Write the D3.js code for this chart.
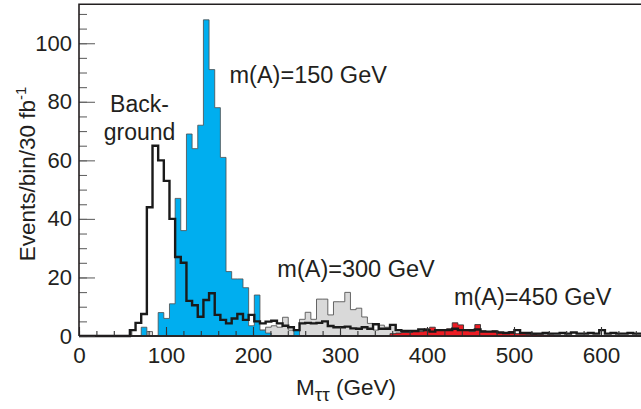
<!DOCTYPE html>
<html><head><meta charset="utf-8">
<script src="https://cdn.jsdelivr.net/npm/d3@7"></script>
<style>
html,body{margin:0;padding:0;background:#fff;}
svg{display:block;font-family:"Liberation Sans",Arial,Helvetica,sans-serif;}
</style></head>
<body>
<svg id="c" width="641" height="409"></svg>
<script>
// ---- data: 100 bins of 6.5 GeV starting at 0 ----
const binStart = 0;
const binWidth = 6.5;
const background = [0,0,0,0,0,0,0,0,0,2,4.5,7.5,44,65,60,53,40,27,25,12,
  10.5,6.6,12.3,14.6,7.2,5.5,4.3,6,7.5,5.5,7.2,5,4.3,4.9,5.2,4.3,3.5,3,2,4.3,
  4.5,4.3,4.5,5,3.4,3,3,3.2,2.6,2.5,3,2.5,4,2.5,2.5,3.8,2,1.7,1.7,1.7,
  2.2,2,1.5,2,2,2,2.5,2,2,2,2.2,1.5,1.5,1.5,1.2,1,1.2,2,1,1,
  0.8,0.8,1,0.8,0.8,1,0.8,1.2,0.8,0.8,1,0.8,2,0.8,1,0.8,0.8,1,0.8,0.8];
const signal150 = [0,0,0,0,0,0,0,0,0,0,0,3,0,0,8,6,11,47,36,69,
  64,72,108,91,78,61,22,19.5,19.5,16.5,3.5,14,2,1,0,0,0,0,2,0,
  0,0,0,0,0,0,0,0,0,0,0,0,0,0,0,0,0,0,0,0,
  0,0,0,0,0,0,0,0,0,0,0,0,0,0,0,0,0,0,0,0,
  0,0,0,0,0,0,0,0,0,0,0,0,0,0,0,0,0,0,0,0];
const signal300 = [0,0,0,0,0,0,0,0,0,0,0,0,1.5,0,0,0,0,0,0,0,
  0,0,0,0,0,0,1,0,0,0,0,1,2,3,3.5,3,6.4,2,1.5,5.7,
  8.1,5.7,12.6,12.6,7.2,11.7,11.7,14.9,9,9.5,6.5,4.3,2,3.7,3,3.8,2,1.5,1.5,1,
  1,1,0.8,0.8,0.6,0.5,0,0,0,0,0,0,0,0,0,0,0,0,0,0,
  0,0,0,0,0,0,0,0,0,0,0,0,0,0,0,0,0,0,0,0];
const signal450 = [0,0,0,0,0,0,0,0,0,0,0,0,0,0,0,0,0,0,0,0,
  0,0,0,0,0,0,0,0,0,0,0,0,0,0,0,0,0,0,0,0,
  0,0,0,0,0,0,0,0,0,0,0,0,0,0,0,0.8,1,1.2,1.2,1.5,
  1.5,2.5,3,2.2,2.2,2.5,4.5,3.8,2.2,1.5,3.9,1.8,1.5,1.8,1.2,1,1.5,0.8,0.8,0.6,
  0.5,0.4,0.3,0.3,0,0,0,0,0,0,0,0,0,0,0,0,0,0,0,0];
const xMajorTicks = [0,100,200,300,400,500,600];
const yMajorTicks = [0,20,40,60,80,100];
const labels = [
  {text:"m(A)=150 GeV", gev:173, val:86.5},
  {text:"m(A)=300 GeV", gev:228, val:20},
  {text:"m(A)=450 GeV", gev:431, val:10.5}
];

// ---- drawing ----
const svg = d3.select("#c");
const x = d3.scaleLinear().domain([0, 650]).range([79, 644.5]);
const y = d3.scaleLinear().domain([0, 113.3]).range([336, 4.3]);

function steps(arr){
  const pts = [[binStart, 0]];
  arr.forEach((v,i)=>{
    const lo = binStart + i*binWidth, hi = lo + binWidth;
    pts.push([lo, v]); pts.push([hi, v]);
  });
  pts.push([binStart + arr.length*binWidth, 0]);
  return pts;
}
const area = d3.area().x(d=>x(d[0])).y0(y(0)).y1(d=>y(d[1]));
const line = d3.line().x(d=>x(d[0])).y(d=>y(d[1]));

svg.append("path").attr("d", area(steps(signal300)))
  .attr("fill","#d9d9d9").attr("stroke","#555").attr("stroke-width",0.9);
svg.append("path").attr("d", area(steps(signal150)))
  .attr("fill","#00aeef").attr("stroke","#4d4d4d").attr("stroke-width",0.8);
svg.append("path").attr("d", area(steps(signal450)))
  .attr("fill","#ed1c24").attr("stroke","#333").attr("stroke-width",0.9);
svg.append("path").attr("d", line(steps(background)))
  .attr("fill","none").attr("stroke","#1a1a1a").attr("stroke-width",2.4)
  .attr("stroke-linejoin","miter");

// axes
const tf = "Liberation Sans, Arial, sans-serif";
const gx = svg.append("g").attr("transform",`translate(0,${y(0)})`);
gx.call(d3.axisBottom(x).tickValues(d3.range(0,650,20)).tickSize(-5).tickFormat(""));
gx.append("g").call(d3.axisBottom(x).tickValues(xMajorTicks).tickSize(-9).tickFormat(d3.format("d")));
gx.selectAll(".domain").remove();
gx.selectAll("line").attr("stroke","#333").attr("stroke-width",1.1);
gx.selectAll("text").attr("y",27).attr("dy",0).attr("font-size",22.5)
  .attr("fill","#231f20").attr("font-family",tf);

const gy = svg.append("g").attr("transform",`translate(${x(0)},0)`);
gy.call(d3.axisLeft(y).tickValues(d3.range(0,114,5)).tickSize(-8).tickFormat(""));
gy.append("g").call(d3.axisLeft(y).tickValues(yMajorTicks).tickSize(-16).tickPadding(7).tickFormat(d3.format("d")));
gy.selectAll(".domain").remove();
gy.selectAll("line").attr("stroke","#666").attr("stroke-width",1.1);
gy.selectAll("text").attr("font-size",22).attr("fill","#231f20").attr("font-family",tf);

// frame
svg.append("path")
  .attr("d",`M${x(0)},${y(0)}H641M${x(0)},${y(0)}V${y(113.3)}H641`)
  .attr("fill","none").attr("stroke","#231f20").attr("stroke-width",1.6);

// labels
labels.forEach(l=>{
  svg.append("text").attr("x",x(l.gev)).attr("y",y(l.val)).attr("font-size",23.5)
    .attr("fill","#231f20").attr("font-family",tf).text(l.text);
});
svg.append("text").attr("x",139.5).attr("y",112).attr("text-anchor","middle")
  .attr("font-size",23).attr("fill","#231f20").attr("font-family",tf).text("Back-");
svg.append("text").attr("x",139.5).attr("y",140).attr("text-anchor","middle")
  .attr("font-size",23).attr("fill","#231f20").attr("font-family",tf).text("ground");

// x title
const xt = svg.append("text").attr("x",296).attr("y",395).attr("font-size",22.5)
  .attr("fill","#231f20").attr("font-family",tf);
xt.append("tspan").text("M");
xt.append("tspan").attr("font-size",19).attr("dy",6).text("ττ");
xt.append("tspan").attr("dy",-6).text(" (GeV)");

// y title
const yt = svg.append("text").attr("transform","translate(34.5,174) rotate(-90)")
  .attr("text-anchor","middle").attr("font-size",22.5).attr("fill","#231f20").attr("font-family",tf);
yt.append("tspan").text("Events/bin/30 fb");
yt.append("tspan").attr("font-size",15).attr("dy",-9).text("-1");
</script>
</body></html>
